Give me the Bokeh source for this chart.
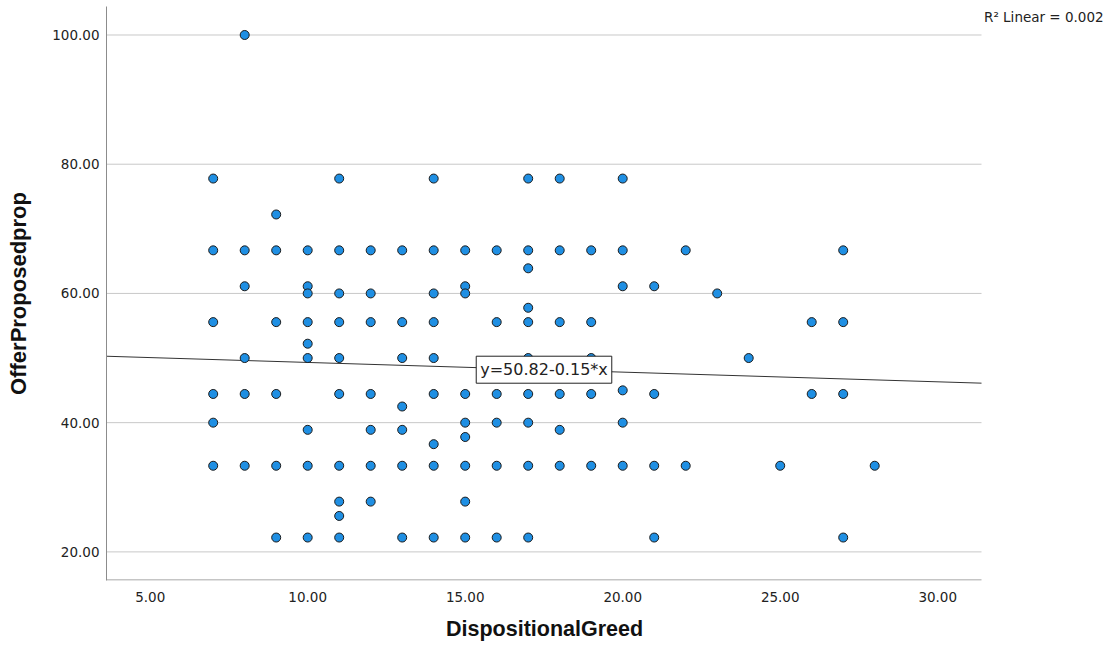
from bokeh.plotting import figure
from bokeh.models import Range1d, FixedTicker, PrintfTickFormatter, Label, Title, LinearAxis
from bokeh.embed import file_html
from bokeh.resources import INLINE

# ---- data ----
dispositional_greed = [
    7, 7, 7, 7, 7, 7,
    8, 8, 8, 8, 8, 8,
    9, 9, 9, 9, 9, 9,
    10, 10, 10, 10, 10, 10, 10, 10, 10,
    11, 11, 11, 11, 11, 11, 11, 11, 11, 11,
    12, 12, 12, 12, 12, 12, 12,
    13, 13, 13, 13, 13, 13, 13,
    14, 14, 14, 14, 14, 14, 14, 14, 14,
    15, 15, 15, 15, 15, 15, 15, 15, 15,
    16, 16, 16, 16, 16, 16,
    17, 17, 17, 17, 17, 17, 17, 17, 17, 17,
    18, 18, 18, 18, 18, 18,
    19, 19, 19, 19, 19,
    20, 20, 20, 20, 20, 20,
    21, 21, 21, 21,
    22, 22,
    23,
    24,
    25,
    26, 26,
    27, 27, 27, 27,
    28,
]
offer_proposed_prop = [
    77.78, 66.67, 55.56, 44.44, 40.00, 33.33,
    100.00, 66.67, 61.11, 50.00, 44.44, 33.33,
    72.22, 66.67, 55.56, 44.44, 33.33, 22.22,
    66.67, 61.11, 60.00, 55.56, 52.22, 50.00, 38.89, 33.33, 22.22,
    77.78, 66.67, 60.00, 55.56, 50.00, 44.44, 33.33, 27.78, 25.56, 22.22,
    66.67, 60.00, 55.56, 44.44, 38.89, 33.33, 27.78,
    66.67, 55.56, 50.00, 42.50, 38.89, 33.33, 22.22,
    77.78, 66.67, 60.00, 55.56, 50.00, 44.44, 36.67, 33.33, 22.22,
    66.67, 61.11, 60.00, 44.44, 40.00, 37.78, 33.33, 27.78, 22.22,
    66.67, 55.56, 44.44, 40.00, 33.33, 22.22,
    77.78, 66.67, 63.89, 57.78, 55.56, 50.00, 44.44, 40.00, 33.33, 22.22,
    77.78, 66.67, 55.56, 44.44, 38.89, 33.33,
    66.67, 55.56, 50.00, 44.44, 33.33,
    77.78, 66.67, 61.11, 45.00, 40.00, 33.33,
    61.11, 44.44, 33.33, 22.22,
    66.67, 33.33,
    60.00,
    50.00,
    33.33,
    55.56, 44.44,
    66.67, 55.56, 44.44, 22.22,
    33.33,
]
x_ticks = [5, 10, 15, 20, 25, 30]
y_ticks = [20, 40, 60, 80, 100]
fit_intercept = 50.82
fit_slope = -0.15
fit_label = "y=50.82-0.15*x"
r2_label = "R\u00b2 Linear = 0.002"
x_title = "DispositionalGreed"
y_title = "OfferProposedprop"

# visible data area of the chart
X_MIN, X_MAX = 3.613, 31.39
Y_MIN, Y_MAX = 15.57, 104.41

# layout in pixels
W, H = 1113, 647
LEFT, TOP, BOTTOM = 106, 6, 67
DATA_W = 875            # width of the visible chart area
FRAME_W = W - LEFT - 2  # frame extended to the right to hold the R² note
X_FRAME_MAX = X_MIN + (X_MAX - X_MIN) * FRAME_W / DATA_W
X_TITLE_W = 196         # approx. rendered width of the x title

TICK_FONT = "DejaVu Sans"
TITLE_FONT = "Liberation Sans"

p = figure(width=W, height=H, output_backend="svg", toolbar_location=None,
           x_range=Range1d(X_MIN, X_FRAME_MAX), y_range=Range1d(Y_MIN, Y_MAX),
           min_border_left=LEFT, min_border_right=2, min_border_top=TOP,
           min_border_bottom=BOTTOM)
p.outline_line_color = None
p.background_fill_color = "white"
p.border_fill_color = "white"

# no built-in grid; gridlines drawn only across the data area
p.xgrid.visible = False
p.ygrid.visible = False
p.segment(x0=[X_MIN] * len(y_ticks), x1=[X_MAX] * len(y_ticks),
          y0=y_ticks, y1=y_ticks, line_color="#c8c8c8", line_width=1)

# axes
for ax in (p.xaxis[0], p.yaxis[0]):
    ax.axis_line_color = "#8c8c8c"
    ax.axis_line_width = 1
    ax.major_tick_line_color = None
    ax.minor_tick_line_color = None
    ax.major_tick_out = 0
    ax.major_tick_in = 0
    ax.minor_tick_out = 0
    ax.minor_tick_in = 0
    ax.major_label_text_font = TICK_FONT
    ax.major_label_text_font_size = "13.5px"
    ax.major_label_text_color = "#222222"
    ax.axis_label_text_font = TITLE_FONT
    ax.axis_label_text_font_style = "bold"
    ax.axis_label_text_color = "#111111"
    ax.formatter = PrintfTickFormatter(format="%.2f")

p.yaxis.axis_label_text_font_size = "22px"
p.xaxis.ticker = FixedTicker(ticks=x_ticks)
p.yaxis.ticker = FixedTicker(ticks=y_ticks)
p.xaxis.major_label_standoff = 11
p.yaxis.major_label_standoff = 7
p.yaxis.axis_label = y_title
p.yaxis.axis_label_standoff = 18

# invisible spacer between tick labels and x title (one hidden tick in the
# empty right-hand strip so that the axis reserves its tick length)
spacer_tick = X_MAX + 2
spacer = LinearAxis(ticker=FixedTicker(ticks=[spacer_tick]), axis_line_color=None,
                    major_tick_line_color=None, minor_tick_line_color=None,
                    major_tick_out=8, major_tick_in=0, minor_tick_out=0,
                    minor_tick_in=0, major_label_standoff=0,
                    major_label_text_font_size="1px",
                    major_label_overrides={spacer_tick: ""})
p.add_layout(spacer, "below")

# x title centred under the data area (not the extended frame)
p.add_layout(Title(text=x_title, align="left",
                   offset=(DATA_W - X_TITLE_W) / 2,
                   text_font=TITLE_FONT, text_font_size="21.5px",
                   text_font_style="bold", text_color="#111111",
                   standoff=4), "below")

# bottom axis line only across the data area
p.xaxis[0].axis_line_color = None
p.segment(x0=[X_MIN], x1=[X_MAX], y0=[Y_MIN + 0.08], y1=[Y_MIN + 0.08],
          line_color="#8c8c8c", line_width=1.2)

# regression line across the full x range
line_x = [X_MIN, X_MAX]
line_y = [fit_intercept + fit_slope * v for v in line_x]
p.line(line_x, line_y, line_color="#333333", line_width=1)

# points
p.scatter(dispositional_greed, offer_proposed_prop, size=9,
          fill_color="#1f8fe3", line_color="#1c1c1c", line_width=1)

# equation label at line midpoint
mid_x = (X_MIN + X_MAX) / 2
p.add_layout(Label(x=mid_x, y=fit_intercept + fit_slope * mid_x, text=fit_label,
                   text_align="center", text_baseline="middle",
                   text_font=TICK_FONT, text_font_size="16px", text_color="#222222",
                   background_fill_color="white", border_line_color="#222222",
                   border_line_width=1, padding=4))

# R^2 annotation (top right, beyond the data area)
p.add_layout(Label(x=X_MAX + 0.08, y=Y_MAX - 1.6, text=r2_label,
                   text_align="left", text_baseline="middle",
                   text_font=TICK_FONT, text_font_size="13.5px", text_color="#222222"))

open("out.html", "w").write(file_html(p, INLINE))
